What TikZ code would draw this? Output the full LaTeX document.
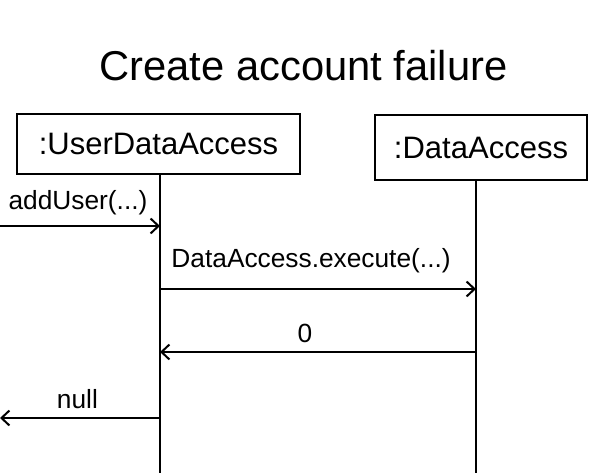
\documentclass[tikz,border=0pt]{standalone}
\usepackage{fontspec}
\setmainfont{Liberation Sans}
\usetikzlibrary{arrows.meta}
\begin{document}
\begin{tikzpicture}[x=1pt,y=-1pt,
  lifebox/.style={draw,line width=2pt,inner sep=0pt,font=\fontsize{31}{36}\selectfont},
  lifeline/.style={line width=2pt},
  msg/.style={line width=2pt,-{Straight Barb[length=8pt,width=15pt,line width=2pt]}},
  lbl/.style={font=\fontsize{26.3}{30}\selectfont,inner sep=0pt}
]
\useasboundingbox (0,0) rectangle (613,473);
\node[font=\fontsize{41.7}{50}\selectfont,inner sep=0pt] (title) at (303.5,66) {Create account failure};
\node[lifebox,minimum width=283pt,minimum height=60pt] (ud) at (158.5,144) {:UserDataAccess};
\node[lifebox,minimum width=212pt,minimum height=65pt] (da) at (481,147.5) {:DataAccess};
\coordinate (L1b) at (160,473);
\coordinate (L2b) at (476,473);
\draw[lifeline] (ud.south -| L1b) -- (L1b);
\draw[lifeline] (da.south -| L2b) -- (L2b);
\coordinate (in) at (0,226);
\coordinate (out) at (0,418);
\coordinate (m2) at (0,289);
\coordinate (m3) at (0,352);
\draw[msg] (in) -- (in -| L1b) node[lbl,pos=0.4875,above=10pt] (l1) {addUser(...)};
\draw[msg] (m2 -| L1b) -- (m2 -| L2b) node[lbl,pos=0.478,above=15pt] (l2) {DataAccess.execute(...)};
\draw[msg] (m3 -| L2b) -- (m3 -| L1b) node[lbl,pos=0.541,above=8pt] (l3) {0};
\draw[msg] (out -| L1b) -- (out) node[lbl,pos=0.516,above=8pt] (l4) {null};
\end{tikzpicture}
\end{document}
